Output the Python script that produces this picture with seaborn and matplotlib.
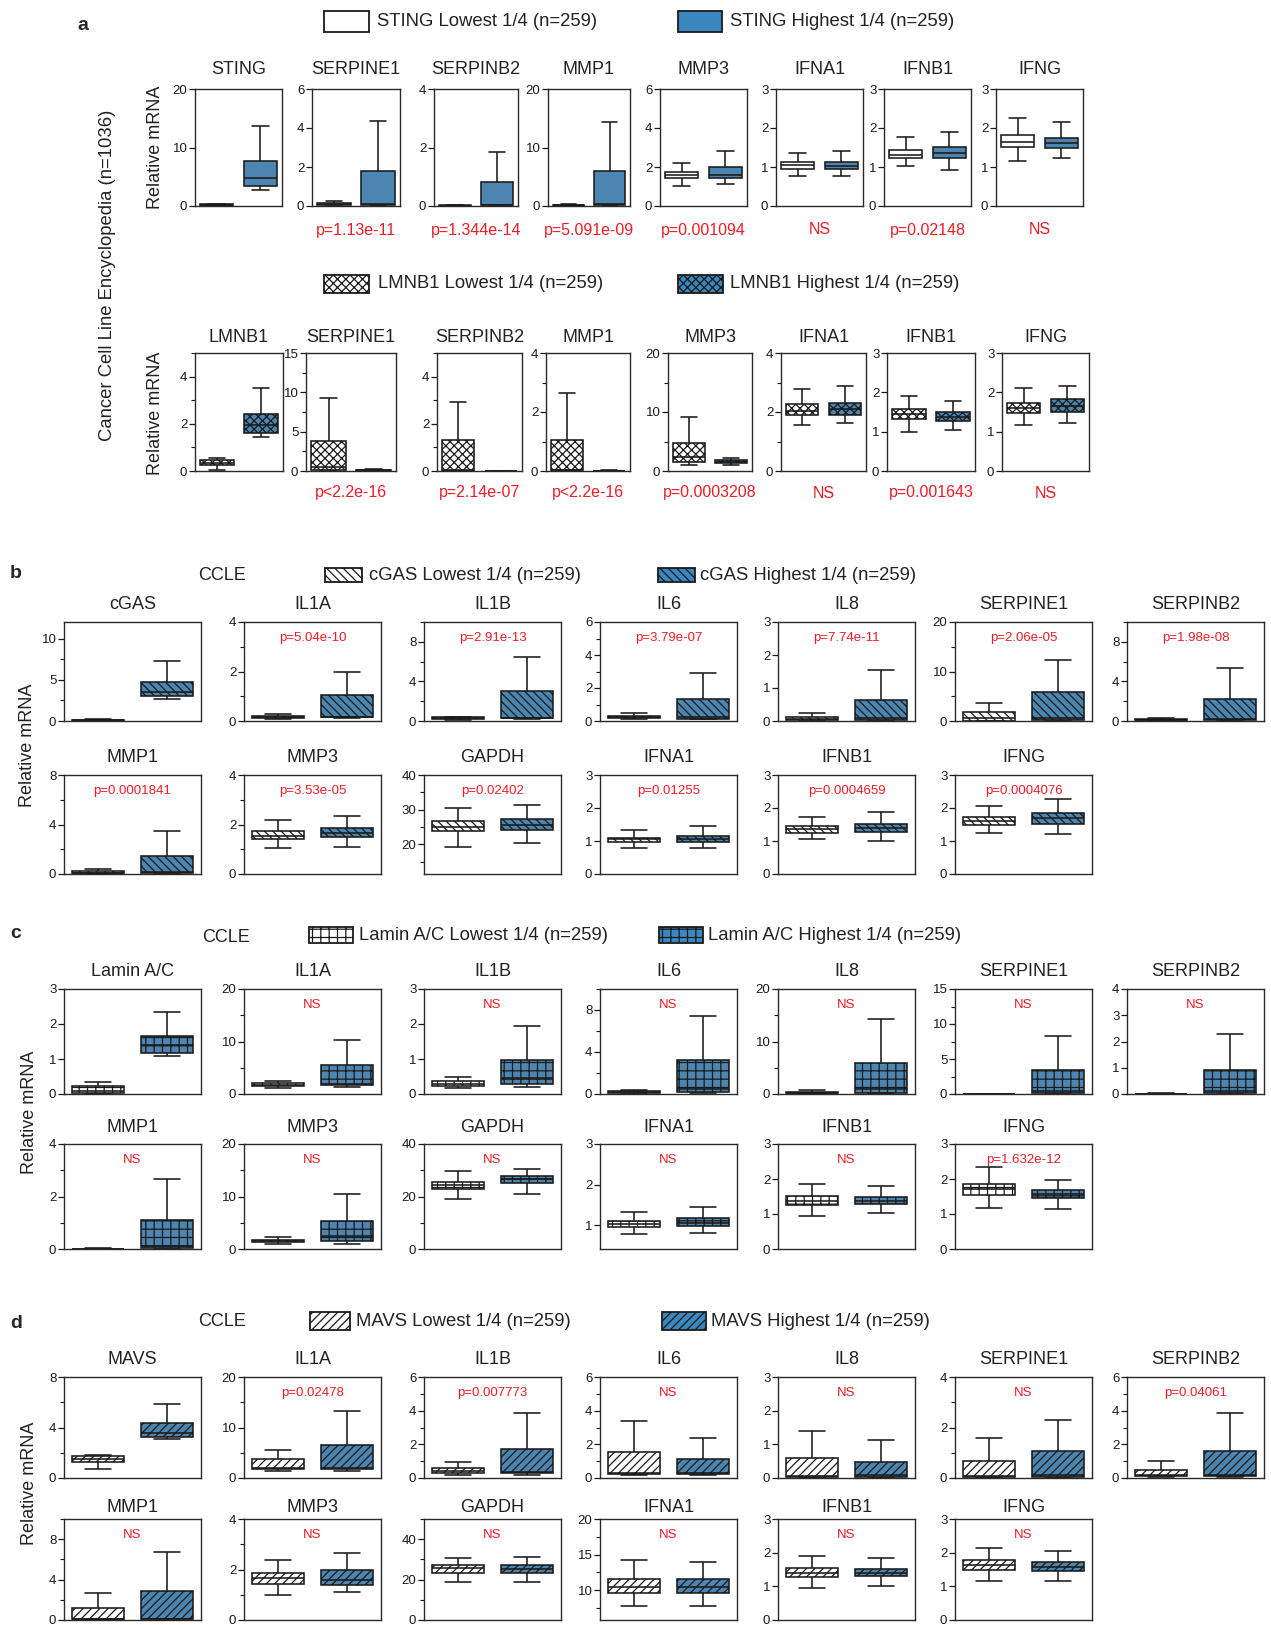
import numpy as np
import pandas as pd
import matplotlib
matplotlib.use("Agg")
import matplotlib.pyplot as plt
import seaborn as sns
from matplotlib.patches import Rectangle
from matplotlib.ticker import AutoMinorLocator

# ---------------- data: [whisker low, Q1, median, Q3, whisker high] ----------------
A1_GENES = ["STING", "SERPINE1", "SERPINB2", "MMP1", "MMP3", "IFNA1", "IFNB1", "IFNG"]
A1_LOW = [[0.05, 0.12, 0.2, 0.28, 0.4], [0.0, 0.03, 0.08, 0.15, 0.28], [0.0, 0.005, 0.01, 0.02, 0.03],
          [0.0, 0.05, 0.1, 0.2, 0.35], [1.05, 1.42, 1.58, 1.72, 2.2], [0.77, 0.96, 1.05, 1.13, 1.37],
          [1.03, 1.23, 1.32, 1.44, 1.77], [1.15, 1.51, 1.64, 1.81, 2.25]]
A1_HIGH = [[2.7, 3.5, 4.75, 7.75, 13.6], [0.0, 0.05, 0.1, 1.77, 4.36], [0.0, 0.02, 0.03, 0.81, 1.83],
           [0.0, 0.15, 0.3, 5.95, 14.3], [1.15, 1.45, 1.61, 2.02, 2.8], [0.77, 0.95, 1.03, 1.13, 1.41],
           [0.93, 1.24, 1.35, 1.51, 1.89], [1.22, 1.49, 1.61, 1.75, 2.15]]
A1_YLIM = [(0, 20), (0, 6), (0, 4), (0, 20), (0, 6), (0, 3), (0, 3), (0, 3)]
A1_YTICKS = [[0, 10, 20], [0, 2, 4, 6], [0, 2, 4], [0, 10, 20], [0, 2, 4, 6], [0, 1, 2, 3], [0, 1, 2, 3], [0, 1, 2, 3]]
A1_P = ["", "p=1.13e-11", "p=1.344e-14", "p=5.091e-09", "p=0.001094", "NS", "p=0.02148", "NS"]

A2_GENES = ["LMNB1", "SERPINE1", "SERPINB2", "MMP1", "MMP3", "IFNA1", "IFNB1", "IFNG"]
A2_LOW = [[0.05, 0.26, 0.36, 0.45, 0.53], [0.0, 0.1, 0.55, 3.76, 9.3], [0.0, 0.01, 0.03, 1.32, 2.94],
          [0.0, 0.02, 0.05, 1.06, 2.64], [1.04, 1.5, 2.3, 4.74, 9.1], [1.57, 1.89, 2.05, 2.26, 2.79],
          [1.0, 1.32, 1.45, 1.58, 1.9], [1.17, 1.47, 1.6, 1.73, 2.1]]
A2_HIGH = [[1.45, 1.63, 1.94, 2.41, 3.53], [0.0, 0.05, 0.1, 0.15, 0.25], [0.0, 0.005, 0.01, 0.015, 0.02],
           [0.0, 0.005, 0.01, 0.015, 0.02], [1.05, 1.3, 1.55, 1.8, 2.15], [1.63, 1.9, 2.1, 2.32, 2.89],
           [1.03, 1.28, 1.38, 1.49, 1.77], [1.22, 1.5, 1.65, 1.82, 2.17]]
A2_YLIM = [(0, 5), (0, 15), (0, 5), (0, 4), (0, 20), (0, 4), (0, 3), (0, 3)]
A2_YTICKS = [[0, 2, 4], [0, 5, 10, 15], [0, 2, 4], [0, 2, 4], [0, 10, 20], [0, 2, 4], [0, 1, 2, 3], [0, 1, 2, 3]]
A2_P = ["", "p<2.2e-16", "p=2.14e-07", "p<2.2e-16", "p=0.0003208", "NS", "p=0.001643", "NS"]

B1_GENES = ["cGAS", "IL1A", "IL1B", "IL6", "IL8", "SERPINE1", "SERPINB2"]
B1_LOW = [[0.02, 0.05, 0.08, 0.12, 0.2], [0.1, 0.13, 0.17, 0.22, 0.27], [0.15, 0.2, 0.3, 0.38, 0.45],
          [0.1, 0.18, 0.25, 0.32, 0.47], [0.0, 0.02, 0.06, 0.11, 0.24], [0.0, 0.1, 0.6, 1.83, 3.66],
          [0.02, 0.08, 0.12, 0.2, 0.3]]
B1_HIGH = [[2.64, 3.05, 3.5, 4.72, 7.24], [0.12, 0.15, 0.18, 1.07, 2.0], [0.2, 0.27, 0.32, 3.0, 6.5],
           [0.1, 0.15, 0.22, 1.32, 2.9], [0.0, 0.04, 0.08, 0.63, 1.55], [0.0, 0.2, 0.68, 5.76, 12.3],
           [0.05, 0.15, 0.25, 2.2, 5.4]]
B1_YLIM = [(0, 12), (0, 4), (0, 10), (0, 6), (0, 3), (0, 20), (0, 10)]
B1_YTICKS = [[0, 5, 10], [0, 2, 4], [0, 4, 8], [0, 2, 4, 6], [0, 1, 2, 3], [0, 10, 20], [0, 4, 8]]
B1_P = ["", "p=5.04e-10", "p=2.91e-13", "p=3.79e-07", "p=7.74e-11", "p=2.06e-05", "p=1.98e-08"]

B2_GENES = ["MMP1", "MMP3", "GAPDH", "IFNA1", "IFNB1", "IFNG"]
B2_LOW = [[0.0, 0.05, 0.12, 0.22, 0.38], [1.04, 1.4, 1.55, 1.74, 2.2], [19.3, 23.8, 25.0, 26.6, 30.4],
          [0.79, 0.96, 1.05, 1.1, 1.33], [1.05, 1.23, 1.35, 1.46, 1.73], [1.25, 1.49, 1.62, 1.74, 2.05]]
B2_HIGH = [[0.0, 0.1, 0.15, 1.48, 3.48], [1.1, 1.48, 1.65, 1.85, 2.36], [20.5, 24.1, 25.7, 27.3, 31.4],
           [0.8, 0.98, 1.07, 1.16, 1.46], [1.0, 1.28, 1.4, 1.53, 1.88], [1.22, 1.53, 1.69, 1.85, 2.27]]
B2_YLIM = [(0, 8), (0, 4), (11.4, 40), (0, 3), (0, 3), (0, 3)]
B2_YTICKS = [[0, 4, 8], [0, 2, 4], [20, 30, 40], [0, 1, 2, 3], [0, 1, 2, 3], [0, 1, 2, 3]]
B2_P = ["p=0.0001841", "p=3.53e-05", "p=0.02402", "p=0.01255", "p=0.0004659", "p=0.0004076"]

C1_GENES = ["Lamin A/C", "IL1A", "IL1B", "IL6", "IL8", "SERPINE1", "SERPINB2"]
C1_LOW = [[0.0, 0.02, 0.1, 0.22, 0.35], [1.2, 1.46, 1.75, 2.1, 2.54], [0.17, 0.22, 0.3, 0.38, 0.5],
          [0.0, 0.05, 0.15, 0.32, 0.4], [0.0, 0.1, 0.25, 0.45, 0.77], [0.0, 0.01, 0.02, 0.03, 0.05],
          [0.0, 0.005, 0.01, 0.015, 0.02]]
C1_HIGH = [[1.08, 1.17, 1.4, 1.67, 2.33], [1.4, 1.71, 2.0, 5.59, 10.3], [0.21, 0.28, 0.45, 0.98, 1.95],
           [0.1, 0.22, 0.5, 3.24, 7.46], [0.1, 0.2, 1.0, 6.0, 14.2], [0.0, 0.1, 0.48, 3.43, 8.24],
           [0.0, 0.02, 0.1, 0.91, 2.28]]
C1_YLIM = [(0, 3), (0, 20), (0, 3), (0, 10), (0, 20), (0, 15), (0, 4)]
C1_YTICKS = [[0, 1, 2, 3], [0, 10, 20], [0, 1, 2, 3], [0, 4, 8], [0, 10, 20], [0, 5, 10, 15], [0, 1, 2, 3, 4]]
C1_P = ["", "NS", "NS", "NS", "NS", "NS", "NS"]

C2_GENES = ["MMP1", "MMP3", "GAPDH", "IFNA1", "IFNB1", "IFNG"]
C2_LOW = [[0.0, 0.005, 0.01, 0.015, 0.02], [0.96, 1.28, 1.5, 1.79, 2.24], [19.1, 22.8, 24.5, 25.6, 29.7],
          [0.78, 0.95, 1.03, 1.11, 1.33], [0.93, 1.27, 1.38, 1.52, 1.87], [1.16, 1.53, 1.71, 1.87, 2.33]]
C2_HIGH = [[0.0, 0.02, 0.1, 1.11, 2.65], [1.0, 1.47, 2.5, 5.24, 10.5], [21.0, 25.0, 26.5, 27.95, 30.6],
           [0.82, 0.98, 1.07, 1.18, 1.45], [1.03, 1.3, 1.38, 1.5, 1.8], [1.14, 1.45, 1.56, 1.68, 1.98]]
C2_YLIM = [(0, 4), (0, 20), (0, 40), (0.42, 3), (0, 3), (0, 3)]
C2_YTICKS = [[0, 2, 4], [0, 10, 20], [0, 20, 40], [1, 2, 3], [0, 1, 2, 3], [0, 1, 2, 3]]
C2_P = ["NS", "NS", "NS", "NS", "NS", "p=1.632e-12"]

D1_GENES = ["MAVS", "IL1A", "IL1B", "IL6", "IL8", "SERPINE1", "SERPINB2"]
D1_LOW = [[0.69, 1.25, 1.5, 1.73, 1.86], [1.3, 1.7, 2.0, 3.74, 5.57], [0.2, 0.27, 0.4, 0.57, 0.93],
          [0.15, 0.24, 0.3, 1.54, 3.4], [0.0, 0.02, 0.05, 0.6, 1.41], [0.0, 0.04, 0.08, 0.66, 1.6],
          [0.05, 0.1, 0.15, 0.45, 0.99]]
D1_HIGH = [[3.06, 3.24, 3.6, 4.34, 5.9], [1.3, 1.8, 2.03, 6.56, 13.3], [0.2, 0.3, 0.35, 1.73, 3.84],
           [0.15, 0.25, 0.3, 1.14, 2.36], [0.0, 0.03, 0.08, 0.47, 1.14], [0.0, 0.05, 0.1, 1.05, 2.29],
           [0.05, 0.12, 0.15, 1.6, 3.88]]
D1_YLIM = [(0, 8), (0, 20), (0, 6), (0, 6), (0, 3), (0, 4), (0, 6)]
D1_YTICKS = [[0, 4, 8], [0, 10, 20], [0, 2, 4, 6], [0, 2, 4, 6], [0, 1, 2, 3], [0, 2, 4], [0, 2, 4, 6]]
D1_P = ["", "p=0.02478", "p=0.007773", "NS", "NS", "NS", "p=0.04061"]

D2_GENES = ["MMP1", "MMP3", "GAPDH", "IFNA1", "IFNB1", "IFNG"]
D2_LOW = [[0.0, 0.05, 0.1, 1.15, 2.66], [0.98, 1.44, 1.65, 1.85, 2.37], [19.0, 23.4, 25.5, 27.0, 30.7],
          [7.8, 9.6, 10.4, 11.6, 14.3], [0.95, 1.29, 1.4, 1.54, 1.9], [1.15, 1.49, 1.62, 1.77, 2.14]]
D2_HIGH = [[0.0, 0.05, 0.1, 2.92, 6.69], [1.1, 1.4, 1.6, 1.99, 2.66], [19.0, 23.1, 25.2, 27.0, 31.1],
           [7.8, 9.6, 10.5, 11.6, 14.0], [1.01, 1.3, 1.4, 1.52, 1.85], [1.17, 1.47, 1.58, 1.72, 2.05]]
D2_YLIM = [(0, 10), (0, 4), (0, 50), (5.8, 20), (0, 3), (0, 3)]
D2_YTICKS = [[0, 4, 8], [0, 2, 4], [0, 20, 40], [10, 15, 20], [0, 1, 2, 3], [0, 1, 2, 3]]
D2_P = ["NS", "NS", "NS", "NS", "NS", "NS"]

GROUPS = ["Lowest", "Highest"]

# ---------------- style ----------------
W, H = 1271, 1625
BLUE = "#3b87bf"
RED = "#ee1c25"
EDGE = "#1a1a1a"
HATCH_A = "xxxx"
HATCH_B = "\\\\\\\\"
HATCH_C = "++"
HATCH_D = "////"

sns.set_theme(style="ticks")
plt.rcParams['font.family'] = ['Liberation Sans', 'DejaVu Sans']
plt.rcParams['hatch.linewidth'] = 0.9
plt.rcParams['axes.linewidth'] = 1.0

fig = plt.figure(figsize=(W / 100, H / 100), dpi=100)
fig.patch.set_facecolor("white")


def frac_rect(l, t, r, b):
    return [l / W, 1 - b / H, (r - l) / W, (b - t) / H]


def draw_box(l, t, r, b, low, high, ylim, yticks, hatch, minor):
    ax = fig.add_axes(frac_rect(l, t, r, b))
    df = pd.DataFrame({"group": [GROUPS[0]] * len(low) + [GROUPS[1]] * len(high),
                       "value": list(low) + list(high)})
    sns.boxplot(data=df, x="group", y="value", hue="group", order=GROUPS, hue_order=GROUPS,
                palette={GROUPS[0]: "white", GROUPS[1]: BLUE}, whis=(0, 100), width=0.76,
                linewidth=1.15, linecolor=EDGE, showfliers=False, legend=False, ax=ax)
    if hatch:
        for p in ax.patches:
            p.set_hatch(hatch)
    ax.set_xlim(-0.5, 1.5)
    ax.set_ylim(*ylim)
    ax.set_yticks(yticks)
    ax.set_yticklabels([f"{v:g}" for v in yticks])
    if minor:
        ax.yaxis.set_minor_locator(AutoMinorLocator(2))
    ax.set_xlabel("")
    ax.set_ylabel("")
    ax.tick_params(axis="x", bottom=False, labelbottom=False)
    ax.tick_params(axis="y", which="major", left=True, direction="out", length=4, width=0.9,
                   labelsize=9.5, pad=1.5, colors=EDGE)
    ax.tick_params(axis="y", which="minor", left=True, direction="out", length=3, width=0.8, colors=EDGE)
    for s in ax.spines.values():
        s.set_visible(True)
        s.set_color("#2a2a2a")
        s.set_linewidth(1.0)
    return ax


def draw_row(lefts, rights, top, bottom, title_y, genes, lows, highs, ylims, yticks, ptexts,
             hatch, p_inside, p_y=None, minor=True):
    for i, g in enumerate(genes):
        l, r = lefts[i], rights[i]
        ax = draw_box(l, top, r, bottom, lows[i], highs[i], ylims[i], yticks[i], hatch,
                      minor and (yticks[i][1] - yticks[i][0]) != 1)
        fig.text((l + r) / 2 / W, 1 - title_y / H, g, ha="center", va="center", fontsize=13, color="#222")
        if ptexts[i]:
            if p_inside:
                ax.annotate(ptexts[i], xy=(0.5, 1), xycoords="axes fraction", xytext=(0, -11.5),
                            textcoords="offset points", ha="center", va="center", fontsize=9.5, color=RED)
            else:
                fig.text((l + r) / 2 / W, 1 - p_y / H, ptexts[i], ha="center", va="center",
                         fontsize=11.5, color=RED)


def legend_item(x0, y0, x1, y1, face, hatch, text, tx):
    fig.add_artist(Rectangle((x0 / W, 1 - y1 / H), (x1 - x0) / W, (y1 - y0) / H,
                             transform=fig.transFigure, facecolor=face, edgecolor=EDGE,
                             lw=1.3, hatch=hatch))
    fig.text(tx / W, 1 - (y0 + y1) / 2 / H, text, ha="left", va="center", fontsize=13.3, color="#222")


# ---------------- panel a ----------------
A1_L = [195, 312, 434, 548, 660, 776, 884, 996]
A1_R = [282, 400, 518, 630, 747, 863, 971, 1083]
A2_L = [195, 306, 437, 546, 668, 781, 887, 1002]
A2_R = [283, 396, 522, 630, 752, 866, 975, 1089]
fig.text(83 / W, 1 - 25 / H, "a", ha="center", va="center", fontsize=14, fontweight="bold")
legend_item(324, 11, 369, 32, "white", None, "STING Lowest 1/4 (n=259)", 377)
legend_item(678, 11, 722, 32, BLUE, None, "STING Highest 1/4 (n=259)", 730)
draw_row(A1_L, A1_R, 89, 206, 70, A1_GENES, A1_LOW, A1_HIGH, A1_YLIM, A1_YTICKS, A1_P,
         None, False, p_y=230, minor=False)
fig.text(156 / W, 1 - 147 / H, "Relative mRNA", rotation=90, ha="center", va="center", fontsize=13, color="#222")

legend_item(324, 275, 369, 293, "white", HATCH_A, "LMNB1 Lowest 1/4 (n=259)", 378)
legend_item(678, 275, 723, 293, BLUE, HATCH_A, "LMNB1 Highest 1/4 (n=259)", 730)
draw_row(A2_L, A2_R, 353, 471, 337, A2_GENES, A2_LOW, A2_HIGH, A2_YLIM, A2_YTICKS, A2_P,
         HATCH_A, False, p_y=493, minor=True)
fig.text(156 / W, 1 - 413 / H, "Relative mRNA", rotation=90, ha="center", va="center", fontsize=13, color="#222")
fig.text(108 / W, 1 - 275 / H, "Cancer Cell Line Encyclopedia (n=1036)", rotation=90,
         ha="center", va="center", fontsize=13.3, color="#222")

# ---------------- panels b, c, d ----------------
BCD_LEFTS = [64, 244, 424, 600, 778, 955, 1127]
BCD_RIGHTS = [x + 137 for x in BCD_LEFTS]

# b
fig.text(16 / W, 1 - 573 / H, "b", ha="center", va="center", fontsize=14, fontweight="bold")
fig.text(222 / W, 1 - 575 / H, "CCLE", ha="center", va="center", fontsize=13, color="#222")
legend_item(325, 568, 362, 582, "white", HATCH_B, "cGAS Lowest 1/4 (n=259)", 369)
legend_item(658, 568, 695, 582, BLUE, HATCH_B, "cGAS Highest 1/4 (n=259)", 700)
draw_row(BCD_LEFTS, BCD_RIGHTS, 622, 721, 605, B1_GENES, B1_LOW, B1_HIGH, B1_YLIM, B1_YTICKS, B1_P,
         HATCH_B, True)
draw_row(BCD_LEFTS, BCD_RIGHTS, 775, 874, 758, B2_GENES, B2_LOW, B2_HIGH, B2_YLIM, B2_YTICKS, B2_P,
         HATCH_B, True)
fig.text(28 / W, 1 - 745 / H, "Relative mRNA", rotation=90, ha="center", va="center", fontsize=13, color="#222")

# c
fig.text(16 / W, 1 - 933 / H, "c", ha="center", va="center", fontsize=14, fontweight="bold")
fig.text(226 / W, 1 - 937 / H, "CCLE", ha="center", va="center", fontsize=13, color="#222")
legend_item(309, 927, 353, 943, "white", HATCH_C, "Lamin A/C Lowest 1/4 (n=259)", 359)
legend_item(659, 927, 703, 943, BLUE, HATCH_C, "Lamin A/C Highest 1/4 (n=259)", 708)
draw_row(BCD_LEFTS, BCD_RIGHTS, 989, 1094, 972, C1_GENES, C1_LOW, C1_HIGH, C1_YLIM, C1_YTICKS, C1_P,
         HATCH_C, True)
draw_row(BCD_LEFTS, BCD_RIGHTS, 1144, 1249, 1128, C2_GENES, C2_LOW, C2_HIGH, C2_YLIM, C2_YTICKS, C2_P,
         HATCH_C, True)
fig.text(29 / W, 1 - 1112 / H, "Relative mRNA", rotation=90, ha="center", va="center", fontsize=13, color="#222")

# d
fig.text(16 / W, 1 - 1324 / H, "d", ha="center", va="center", fontsize=14, fontweight="bold")
fig.text(222 / W, 1 - 1321 / H, "CCLE", ha="center", va="center", fontsize=13, color="#222")
legend_item(310, 1312, 350, 1330, "white", HATCH_D, "MAVS Lowest 1/4 (n=259)", 356)
legend_item(662, 1312, 706, 1330, BLUE, HATCH_D, "MAVS Highest 1/4 (n=259)", 711)
draw_row(BCD_LEFTS, BCD_RIGHTS, 1377, 1478, 1360, D1_GENES, D1_LOW, D1_HIGH, D1_YLIM, D1_YTICKS, D1_P,
         HATCH_D, True)
draw_row(BCD_LEFTS, BCD_RIGHTS, 1519, 1620, 1507, D2_GENES, D2_LOW, D2_HIGH, D2_YLIM, D2_YTICKS, D2_P,
         HATCH_D, True)
fig.text(29 / W, 1 - 1483 / H, "Relative mRNA", rotation=90, ha="center", va="center", fontsize=13, color="#222")

fig.savefig("out.png", dpi=100, facecolor="white")
